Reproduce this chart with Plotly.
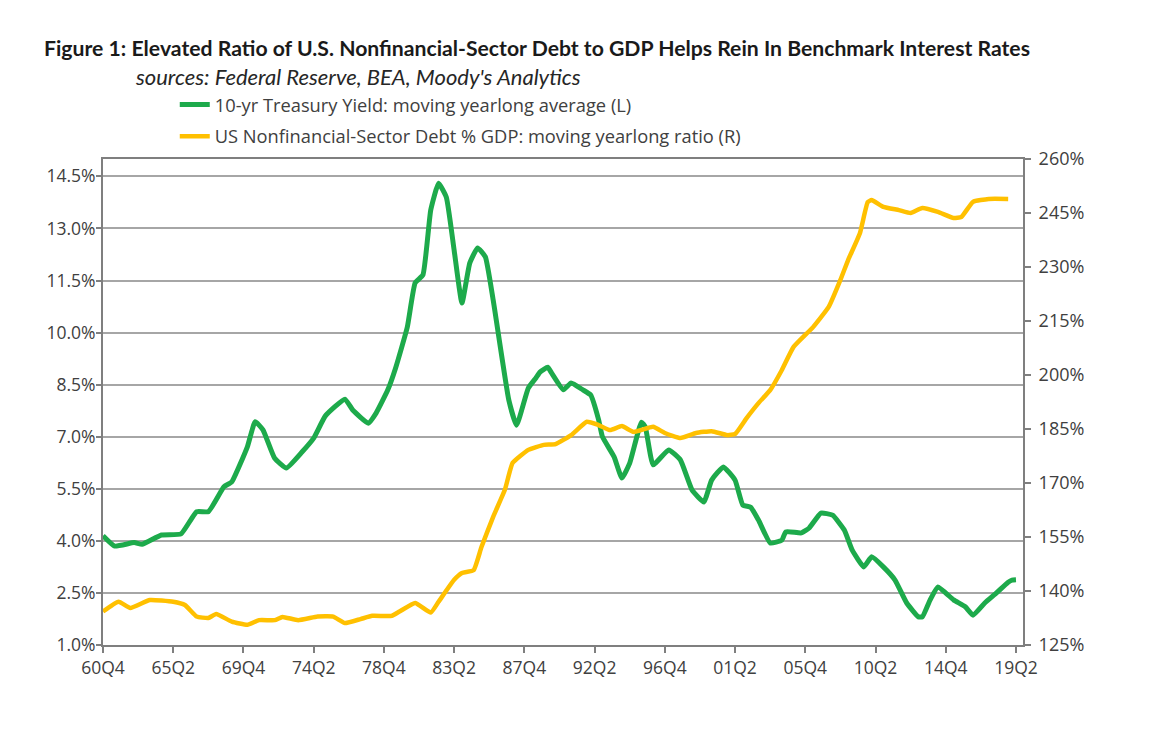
import plotly.graph_objects as go

# ---------------- data ----------------
yield_quarters = [
    "1960Q4", "1961Q3", "1962Q4", "1963Q2", "1964Q3", "1965Q4", "1966Q4", "1967Q3",
    "1968Q3", "1969Q1", "1970Q1", "1970Q3", "1971Q1", "1971Q4", "1972Q3", "1973Q3",
    "1974Q2", "1975Q1", "1976Q2", "1976Q4", "1977Q4", "1978Q2", "1979Q1", "1979Q3",
    "1980Q2", "1980Q4", "1981Q2", "1981Q4", "1982Q2", "1982Q4", "1983Q2", "1983Q4",
    "1984Q2", "1984Q4", "1985Q2", "1985Q4", "1986Q4", "1987Q2", "1988Q1", "1988Q3",
    "1988Q4", "1989Q2", "1989Q3", "1990Q2", "1990Q4", "1991Q3", "1992Q1", "1992Q3",
    "1992Q4", "1993Q3", "1994Q1", "1994Q3", "1995Q2", "1995Q3", "1996Q1", "1997Q1",
    "1997Q4", "1998Q3", "1999Q2", "1999Q4", "2000Q3", "2001Q2", "2001Q4", "2002Q2",
    "2002Q4", "2003Q3", "2004Q2", "2004Q3", "2005Q3", "2006Q1", "2006Q4", "2007Q3",
    "2008Q2", "2008Q4", "2009Q3", "2010Q1", "2010Q4", "2011Q3", "2012Q2", "2013Q1",
    "2013Q2", "2013Q4", "2014Q2", "2015Q2", "2016Q1", "2016Q3", "2017Q2", "2018Q1",
    "2018Q4", "2019Q1", "2019Q2",
]
yield_values = [
    4.15, 3.85, 3.95, 3.90, 4.17, 4.20, 4.84, 4.84,
    5.56, 5.70, 6.71, 7.43, 7.20, 6.38, 6.10, 6.56,
    6.96, 7.60, 8.08, 7.77, 7.39, 7.68, 8.35, 8.98,
    10.16, 11.43, 11.66, 13.53, 14.30, 13.90, 12.37, 10.85,
    12.00, 12.44, 12.18, 10.94, 8.06, 7.33, 8.40, 8.70,
    8.86, 9.00, 8.83, 8.35, 8.55, 8.35, 8.20, 7.50,
    7.00, 6.42, 5.81, 6.24, 7.42, 7.28, 6.19, 6.62,
    6.33, 5.46, 5.12, 5.75, 6.13, 5.75, 5.03, 4.97,
    4.60, 3.94, 4.02, 4.26, 4.23, 4.37, 4.80, 4.74,
    4.31, 3.74, 3.25, 3.54, 3.25, 2.87, 2.21, 1.81,
    1.81, 2.30, 2.67, 2.30, 2.10, 1.86, 2.21, 2.50,
    2.81, 2.87, 2.88,
]

debt_quarters = [
    "1960Q4", "1961Q4", "1962Q3", "1963Q4", "1965Q2", "1966Q1", "1966Q4", "1967Q3",
    "1968Q1", "1969Q1", "1970Q1", "1970Q4", "1971Q4", "1972Q2", "1973Q2", "1974Q3",
    "1975Q3", "1976Q2", "1977Q2", "1978Q1", "1979Q2", "1979Q4", "1980Q4", "1981Q4",
    "1982Q2", "1983Q2", "1983Q4", "1984Q3", "1985Q1", "1985Q4", "1986Q3", "1987Q1",
    "1988Q1", "1989Q1", "1989Q4", "1990Q4", "1991Q4", "1992Q3", "1993Q2", "1994Q1",
    "1994Q4", "1996Q1", "1996Q4", "1997Q4", "1998Q4", "1999Q4", "2000Q4", "2001Q2",
    "2002Q1", "2002Q4", "2003Q3", "2004Q2", "2005Q1", "2006Q2", "2007Q2", "2008Q1",
    "2008Q3", "2009Q2", "2009Q4", "2010Q1", "2010Q4", "2011Q4", "2012Q3", "2013Q2",
    "2014Q2", "2015Q2", "2015Q4", "2016Q3", "2017Q3", "2018Q4",
]
debt_values = [
    134.3, 137.0, 135.3, 137.5, 137.0, 136.1, 132.9, 132.5,
    133.6, 131.5, 130.6, 131.9, 131.9, 132.8, 131.9, 132.9,
    132.9, 131.1, 132.2, 133.1, 133.1, 134.3, 136.7, 134.0,
    137.0, 143.1, 145.0, 145.8, 152.2, 160.6, 168.1, 175.6,
    179.2, 180.6, 180.8, 183.3, 187.0, 186.1, 184.7, 185.8,
    184.2, 185.6, 183.9, 182.5, 183.9, 184.4, 183.3, 183.6,
    188.1, 192.2, 195.8, 201.4, 207.8, 213.3, 218.9, 226.4,
    232.0, 239.4, 248.0, 248.6, 246.7, 245.8, 245.0, 246.4,
    245.3, 243.6, 243.9, 248.1, 248.9, 248.9,
]

tick_labels = ["60Q4", "65Q2", "69Q4", "74Q2", "78Q4", "83Q2", "87Q4",
               "92Q2", "96Q4", "01Q2", "05Q4", "10Q2", "14Q4", "19Q2"]

left_ticks = [1.0, 2.5, 4.0, 5.5, 7.0, 8.5, 10.0, 11.5, 13.0, 14.5]
right_ticks = [125, 140, 155, 170, 185, 200, 215, 230, 245, 260]


def q_index(label):
    """Quarter label 'YYYYQn' or 'YYQn' -> number of quarters since 1960Q4."""
    y, q = label.split("Q")
    y = int(y)
    if y < 100:
        y += 1900 if y >= 50 else 2000
    return (y - 1960) * 4 + int(q) - 4


GREEN = "#1DAA4B"
YELLOW = "#FFC000"
AXIS = "#7F7F7F"
GRID = "#A6A6A6"
TXT = "#404040"
FONT = "Open Sans"

fig = go.Figure()
fig.add_trace(go.Scatter(
    x=[q_index(s) for s in yield_quarters], y=yield_values,
    mode="lines", line=dict(color=GREEN, width=5, shape="spline", smoothing=0.4),
    name="10-yr Treasury Yield: moving yearlong average (L)",
    legendgroup="a", yaxis="y",
))
fig.add_trace(go.Scatter(
    x=[q_index(s) for s in debt_quarters], y=debt_values,
    mode="lines", line=dict(color=YELLOW, width=4.5, shape="spline", smoothing=0.4),
    name="US Nonfinancial-Sector Debt % GDP: moving yearlong ratio (R)",
    legendgroup="b", yaxis="y2",
))

fig.update_layout(
    width=1153, height=736,
    margin=dict(l=103, r=130, t=159, b=91),
    paper_bgcolor="white", plot_bgcolor="white",
    font=dict(family=FONT, color=TXT, size=17),
    showlegend=True,
    legend=dict(
        x=0.078, y=1.15, xanchor="left", yanchor="top",
        font=dict(family=FONT, size=18.3, color=TXT),
        bgcolor="rgba(0,0,0,0)", tracegroupgap=5,
        itemwidth=30,
    ),
    xaxis=dict(
        range=[0, 235.8],
        tickvals=[q_index(t) for t in tick_labels], ticktext=tick_labels,
        showgrid=False, zeroline=False,
        showline=True, linecolor=AXIS, linewidth=2, mirror=True,
        ticks="outside", ticklen=6, tickcolor=AXIS, tickwidth=1.5,
        tickfont=dict(family=FONT, size=17.5, color=TXT),
    ),
    yaxis=dict(
        range=[1.0, 15.0],
        tickvals=left_ticks, ticktext=[f"{v:.1f}%" for v in left_ticks],
        showgrid=True, gridcolor=GRID, gridwidth=1.5,
        zeroline=False,
        showline=True, linecolor=AXIS, linewidth=2,
        ticks="outside", ticklen=5, tickcolor=AXIS, tickwidth=1.5,
        ticklabelstandoff=-3,
        tickfont=dict(family=FONT, size=17.5, color=TXT),
    ),
    yaxis2=dict(
        range=[125, 260], overlaying="y", side="right",
        tickvals=right_ticks, ticktext=[f"{v}%" for v in right_ticks],
        showgrid=False, zeroline=False,
        showline=True, linecolor=AXIS, linewidth=2,
        ticks="outside", ticklen=6, tickcolor=AXIS, tickwidth=1.5,
        ticklabelstandoff=4,
        tickfont=dict(family=FONT, size=18, color=TXT),
    ),
    annotations=[
        dict(text="<b>Figure 1: Elevated Ratio of U.S. Nonfinancial-Sector Debt to GDP Helps Rein In Benchmark Interest Rates</b>",
             xref="paper", yref="paper", x=-0.066, y=1.228, xanchor="left", yanchor="middle",
             showarrow=False, font=dict(family="Lato", size=21.2, color="#1a1a1a")),
        dict(text="<i>sources: Federal Reserve, BEA, Moody's Analytics</i>",
             xref="paper", yref="paper", x=0.033, y=1.169, xanchor="left", yanchor="middle",
             showarrow=False, font=dict(family="Lato", size=22, color="#262626")),
    ],
)

fig.write_html("out.html")
